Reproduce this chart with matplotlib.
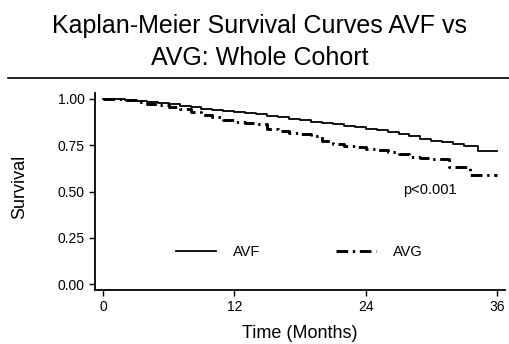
import matplotlib
matplotlib.use("Agg")
import matplotlib.pyplot as plt
from matplotlib.lines import Line2D

plt.rcParams['font.family'] = ['Liberation Sans', 'DejaVu Sans']

# Kaplan-Meier step estimates
avf_time = [0, 1, 2, 3, 4, 5, 6, 7, 8, 9, 10, 11, 12, 13, 14, 15, 16, 17, 18,
            19, 20, 21, 22, 23, 24, 25, 26, 27, 28, 29, 30, 31, 32, 33, 34.3, 36]
avf_surv = [1.0, 0.997, 0.993, 0.989, 0.985, 0.979, 0.972, 0.963, 0.955, 0.946,
            0.940, 0.934, 0.929, 0.923, 0.917, 0.910, 0.903, 0.894, 0.886, 0.878,
            0.868, 0.862, 0.855, 0.848, 0.840, 0.830, 0.820, 0.810, 0.798, 0.786,
            0.772, 0.765, 0.757, 0.748, 0.720, 0.720]

avg_time = [0, 1, 2, 3, 4, 5, 6, 7, 8, 9, 10, 11, 12, 13, 14, 15, 16, 17, 18,
            19, 20, 21, 22, 23, 24, 25, 26, 27, 28, 29, 30, 31, 31.6, 33.5, 36]
avg_surv = [1.0, 0.997, 0.993, 0.985, 0.975, 0.966, 0.955, 0.945, 0.932, 0.915,
            0.900, 0.885, 0.875, 0.870, 0.862, 0.835, 0.825, 0.815, 0.808, 0.798,
            0.775, 0.758, 0.748, 0.738, 0.730, 0.725, 0.716, 0.700, 0.684, 0.680,
            0.677, 0.674, 0.631, 0.589, 0.589]

x_ticks = [0, 12, 24, 36]
y_ticks = [0.00, 0.25, 0.50, 0.75, 1.00]

W, H = 510, 344
fig = plt.figure(figsize=(W / 100, H / 100), dpi=100)
ax = fig.add_axes([95 / W, 1 - 290 / H, 410 / W, 197 / H])

ax.step(avf_time, avf_surv, where='post', color='black', lw=1.3, label='AVF')
ax.step(avg_time, avg_surv, where='post', color='black', lw=2.1,
        dashes=(4, 1.6, 0.8, 1.6), label='AVG')

ax.set_xlim(-0.73, 36.73)
ax.set_ylim(-0.032, 1.032)
ax.set_xticks(x_ticks)
ax.set_yticks(y_ticks)
ax.set_yticklabels(['%.2f' % v for v in y_ticks])
ax.tick_params(direction='out', length=4, width=1, labelsize=10, color='black')
for s in ['top', 'right']:
    ax.spines[s].set_visible(False)
for s in ['left', 'bottom']:
    ax.spines[s].set_linewidth(1.3)

ax.set_xlabel('Time (Months)', fontsize=13)
ax.set_ylabel('Survival', fontsize=13)
ax.xaxis.set_label_coords(0.5, (290 - 333) / 197)
ax.xaxis.label.set_va('center')
ax.yaxis.set_label_coords((20 - 95) / 410, (290 - 187) / 197)
ax.yaxis.label.set_va('center')

ax.text(29.9, 0.508, 'p<0.001', fontsize=10.5, ha='center', va='center')

ax.legend(loc='center', bbox_to_anchor=((299 - 95) / 410, (290 - 252) / 197),
          ncol=2, frameon=False, fontsize=10.5, handlelength=2.75,
          columnspacing=5.2, handletextpad=1.15, borderpad=0)

fig.text(260 / W, 1 - 33 / H, 'Kaplan-Meier Survival Curves AVF vs',
         ha='center', va='baseline', fontsize=18)
fig.text(260 / W, 1 - 65 / H, 'AVG: Whole Cohort',
         ha='center', va='baseline', fontsize=18)
fig.add_artist(Line2D([8 / W, 1.0], [1 - 78 / H, 1 - 78 / H],
                      color='black', lw=1.2))

fig.savefig('out.png', dpi=100)
